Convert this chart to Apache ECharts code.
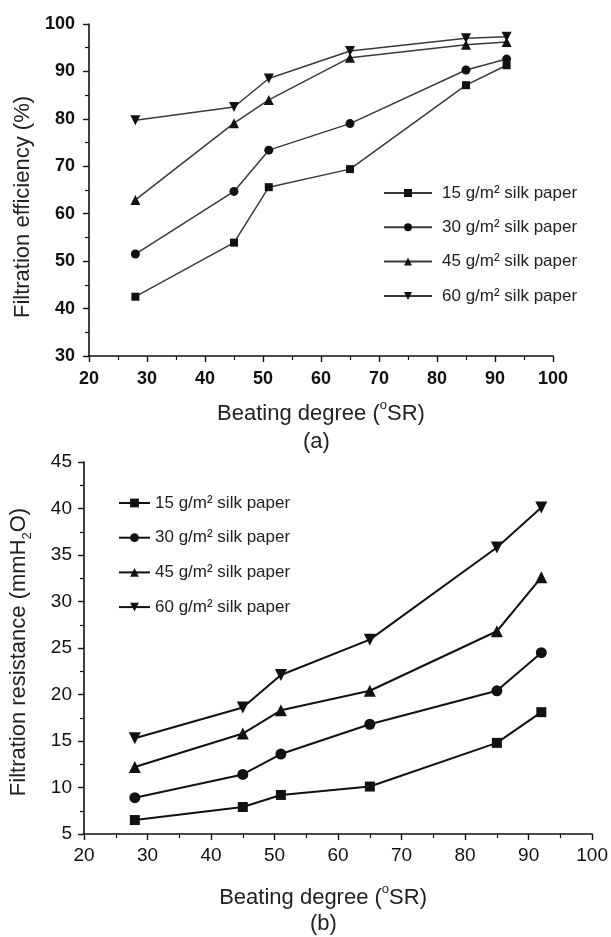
<!DOCTYPE html>
<html>
<head>
<meta charset="utf-8">
<script src="https://cdn.jsdelivr.net/npm/echarts@6/dist/echarts.min.js"></script>
<style>
  html, body { margin: 0; padding: 0; background: #fff; }
  #chart { width: 611px; height: 937px; }
</style>
</head>
<body>
<div id="chart"></div>
<script>
// beating degree (°SR) of the samples
var beating = [28, 45, 51, 65, 85, 92];
var xTicks = [20, 30, 40, 50, 60, 70, 80, 90, 100];

// (a) filtration efficiency, %
var eff15 = [42.5, 53.9, 65.6, 69.4, 87.1, 91.3];
var eff30 = [51.5, 64.7, 73.4, 79.0, 90.3, 92.6];
var eff45 = [62.9, 79.1, 84.0, 92.9, 95.6, 96.2];
var eff60 = [79.7, 82.5, 88.5, 94.3, 97.0, 97.3];

// (b) filtration resistance, mmH2O
var res15 = [6.5, 7.9, 9.2, 10.1, 14.8, 18.1];
var res30 = [8.9, 11.4, 13.6, 16.8, 20.4, 24.5];
var res45 = [12.2, 15.8, 18.3, 20.4, 26.8, 32.6];
var res60 = [15.3, 18.6, 22.1, 25.9, 35.8, 40.1];

var legendNames = ['15 g/m² silk paper', '30 g/m² silk paper', '45 g/m² silk paper', '60 g/m² silk paper'];

var font = 'Liberation Sans, Arial, sans-serif';

function pts(ys) {
  return beating.map(function (x, i) { return [x, ys[i]]; });
}

var markers = [
  { symbol: 'rect', rot: 0 },
  { symbol: 'circle', rot: 0 },
  { symbol: 'triangle', rot: 0 },
  { symbol: 'triangle', rot: 180 }
];

function makeSeries(prefix, idx, list, color, width, sizes) {
  return list.map(function (ys, i) {
    return {
      name: prefix + i,
      type: 'line',
      xAxisIndex: idx,
      yAxisIndex: idx,
      data: pts(ys),
      symbol: markers[i].symbol,
      symbolRotate: markers[i].rot,
      symbolSize: sizes[i],
      showAllSymbol: true,
      lineStyle: { color: color, width: width },
      itemStyle: { color: '#111', borderWidth: 0 },
      animation: false
    };
  });
}

var topSeries = makeSeries('a', 0, [eff15, eff30, eff45, eff60], '#3a3a3a', 1.5, [8, 9, 10, 10]);
var botSeries = makeSeries('b', 1, [res15, res30, res45, res60], '#111', 2, [10, 11, 12, 12]);

function xAxis(idx, bold, size, margin, gap, pad) {
  return {
    type: 'value',
    gridIndex: idx,
    min: 20, max: 100, interval: 10,
    axisLine: { lineStyle: { color: '#111', width: 1.6 } },
    axisTick: { inside: false, length: 6, lineStyle: { color: '#111', width: 1.4 } },
    minorTick: { show: true, splitNumber: 2, length: 4, lineStyle: { color: '#111', width: 1.2 } },
    splitLine: { show: false },
    axisLabel: {
      color: '#111', fontFamily: font, fontSize: size, fontWeight: bold ? 'bold' : 'normal', margin: margin,
      formatter: function (v) { return xTicks.indexOf(v) >= 0 ? String(v) : ''; }
    },
    name: '{n|Beating degree (}{s|o}{n|SR)}',
    nameLocation: 'middle',
    nameGap: gap,
    nameTextStyle: {
      padding: pad,
      rich: {
        n: { fontFamily: font, fontSize: 22, color: '#222', lineHeight: 26, verticalAlign: 'bottom' },
        s: { fontFamily: font, fontSize: 13, color: '#222', lineHeight: 26, verticalAlign: 'top' }
      }
    }
  };
}

function legendName(n) {
  return legendNames[+n.slice(1)];
}

var option = {
  backgroundColor: '#fff',
  animation: false,
  grid: [
    { left: 89, right: 58, top: 24, height: 332 },
    { left: 84, right: 15, top: 462, height: 372 }
  ],
  xAxis: [
    xAxis(0, true, 18, 14, 43, [0, 0, 0, 0]),
    xAxis(1, false, 19, 12, 49, [0, 30, 0, 0])
  ],
  yAxis: [
    {
      type: 'value', gridIndex: 0, min: 30, max: 100, interval: 10,
      axisLine: { show: true, lineStyle: { color: '#111', width: 1.6 } },
      axisTick: { show: true, length: 6, lineStyle: { color: '#111', width: 1.4 } },
      minorTick: { show: true, splitNumber: 2, length: 4, lineStyle: { color: '#111', width: 1.2 } },
      splitLine: { show: false },
      axisLabel: { color: '#111', fontFamily: font, fontSize: 18, fontWeight: 'bold', margin: 14 },
      name: 'Filtration efficiency (%)',
      nameLocation: 'middle',
      nameGap: 53,
      nameTextStyle: { fontFamily: font, fontSize: 22, color: '#222', padding: [0, 34, 0, 0] }
    },
    {
      type: 'value', gridIndex: 1, min: 5, max: 45, interval: 5,
      axisLine: { show: true, lineStyle: { color: '#111', width: 1.6 } },
      axisTick: { show: true, length: 6, lineStyle: { color: '#111', width: 1.4 } },
      minorTick: { show: true, splitNumber: 2, length: 4, lineStyle: { color: '#111', width: 1.2 } },
      splitLine: { show: false },
      axisLabel: { color: '#111', fontFamily: font, fontSize: 19, margin: 12 },
      name: '{n|Filtration resistance (mmH}{s|2}{n|O)}',
      nameLocation: 'middle',
      nameGap: 50,
      nameTextStyle: {
        padding: [0, 8, 0, 0],
        rich: {
          n: { fontFamily: font, fontSize: 22, color: '#222', lineHeight: 26, verticalAlign: 'top' },
          s: { fontFamily: font, fontSize: 13, color: '#222', lineHeight: 26, verticalAlign: 'bottom' }
        }
      }
    }
  ],
  legend: [
    {
      data: topSeries.map(function (s) { return s.name; }),
      orient: 'vertical',
      left: 378, top: 178,
      itemWidth: 48, itemHeight: 10, itemGap: 14.3,
      formatter: legendName,
      textStyle: { fontFamily: font, fontSize: 17, color: '#222', lineHeight: 20, padding: [0, 0, 0, 5] },
      selectedMode: false
    },
    {
      data: botSeries.map(function (s) { return s.name; }),
      orient: 'vertical',
      left: 113, top: 488,
      itemWidth: 31, itemHeight: 11, itemGap: 14.7,
      formatter: legendName,
      textStyle: { fontFamily: font, fontSize: 17, color: '#222', lineHeight: 20 },
      selectedMode: false
    }
  ],
  graphic: [
    { type: 'text', left: 303, top: 431, style: { text: '(a)', font: '22px ' + font, fill: '#222' } },
    { type: 'text', left: 310, top: 913, style: { text: '(b)', font: '22px ' + font, fill: '#222' } }
  ],
  series: topSeries.concat(botSeries)
};

var chart = echarts.init(document.getElementById('chart'));
chart.setOption(option);
</script>
</body>
</html>
